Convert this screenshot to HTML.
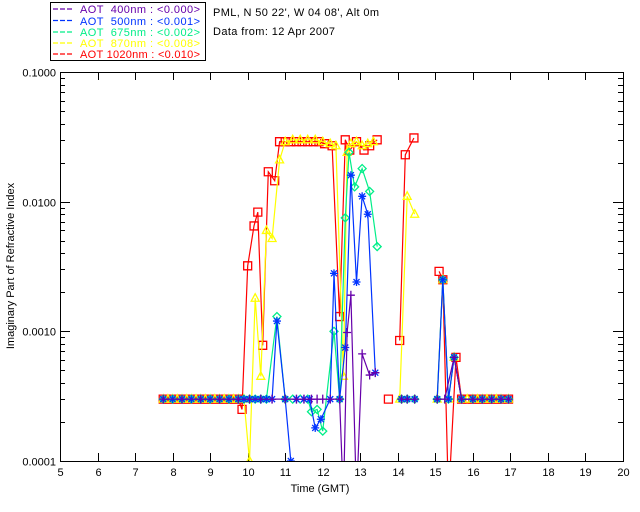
<!DOCTYPE html>
<html><head><meta charset="utf-8"><style>
body{margin:0;background:#fff;}
svg{display:block;font-family:"Liberation Sans",sans-serif;}
</style></head><body>
<svg id="c" width="640" height="512">
<rect x="0" y="0" width="640" height="512" fill="#fff"/>
<g>
<rect x="50.5" y="2.5" width="155" height="58" fill="none" stroke="#000"/>
<g font-size="11" stroke-width="1.2">
<line x1="53" y1="9" x2="74" y2="9" stroke="#6600aa" stroke-dasharray="5,2"/>
<line x1="53" y1="20.5" x2="74" y2="20.5" stroke="#0033ff" stroke-dasharray="5,2"/>
<line x1="53" y1="32" x2="74" y2="32" stroke="#00ee88" stroke-dasharray="5,2"/>
<line x1="53" y1="43" x2="74" y2="43" stroke="#ffff00" stroke-dasharray="5,2"/>
<line x1="53" y1="54" x2="74" y2="54" stroke="#ff0000" stroke-dasharray="5,2"/>
<text x="80" y="13" fill="#6600aa" textLength="120" lengthAdjust="spacing" xml:space="preserve">AOT  400nm : &lt;0.000&gt;</text>
<text x="80" y="25" fill="#0033ff" textLength="120" lengthAdjust="spacing" xml:space="preserve">AOT  500nm : &lt;0.001&gt;</text>
<text x="80" y="36" fill="#00ee88" textLength="120" lengthAdjust="spacing" xml:space="preserve">AOT  675nm : &lt;0.002&gt;</text>
<text x="80" y="47" fill="#ffff00" textLength="120" lengthAdjust="spacing" xml:space="preserve">AOT  870nm : &lt;0.008&gt;</text>
<text x="80" y="58" fill="#ff0000" textLength="120" lengthAdjust="spacing" xml:space="preserve">AOT 1020nm : &lt;0.010&gt;</text>
</g></g>
<text x="213" y="16" font-size="11" textLength="166" lengthAdjust="spacing">PML, N 50 22', W 04 08', Alt 0m</text>
<text x="213" y="35" font-size="11" textLength="122" lengthAdjust="spacing">Data from: 12 Apr 2007</text>
<text x="320" y="492" font-size="11" text-anchor="middle">Time (GMT)</text>
<text transform="translate(14,266) rotate(-90)" font-size="11" text-anchor="middle">Imaginary Part of Refractive Index</text>
<g id="axes"></g>
<defs><clipPath id="clip"><rect x="60" y="72" width="563" height="389"/></clipPath></defs>
<g id="series" clip-path="url(#clip)"></g>
<rect x="60.5" y="72.5" width="563" height="389" fill="none" stroke="#000"/>
</svg>
<script>
const xTicks=[5,6,7,8,9,10,11,12,13,14,15,16,17,18,19,20];
const yTicks=[0.0001,0.001,0.01,0.1];
const yTickLabels=["0.0001","0.0010","0.0100","0.1000"];
const bl=0.0003;
const redT=[7.75,7.875,8,8.125,8.25,8.375,8.5,8.625,8.75,8.875,9,9.125,9.25,9.375,9.5,9.625,9.75,9.85,10.0,10.17,10.27,10.4,10.55,10.72,10.85,11.0,11.15,11.3,11.45,11.6,11.75,11.9,12.05,12.25,12.45,12.6,12.72,12.9,13.1,13.25,13.45,null,13.75,null,14.05,14.2,14.43,null,15.1,15.2,15.35,15.55,15.7,15.85,16.0,16.125,16.25,16.375,16.5,16.625,16.75,16.95];
const redV=[bl,bl,bl,bl,bl,bl,bl,bl,bl,bl,bl,bl,bl,bl,bl,bl,bl,0.00025,0.0032,0.0065,0.0083,0.00078,0.017,0.0145,0.029,0.029,0.029,0.029,0.029,0.029,0.029,0.029,0.028,0.027,0.0013,0.03,0.025,0.029,0.025,0.027,0.03,null,bl,null,0.00085,0.023,0.031,null,0.0029,0.0025,0.00005,0.00063,bl,bl,bl,bl,bl,bl,bl,bl,bl,bl];
const yelT=[7.75,7.875,8,8.125,8.25,8.375,8.5,8.625,8.75,8.875,9,9.125,9.25,9.375,9.5,9.625,9.75,9.9,10.05,10.2,10.35,10.5,10.65,10.85,11.0,11.2,11.4,11.6,11.8,12.0,12.2,12.35,12.55,12.65,12.75,12.9,13.05,13.2,13.35,null,14.05,14.25,14.45,null,15.05,15.2,15.35,15.5,15.7,15.85,16.0,16.125,16.25,16.375,16.5,16.625,16.75,16.95];
const yelV=[bl,bl,bl,bl,bl,bl,bl,bl,bl,bl,bl,bl,bl,bl,bl,bl,bl,0.0003,0.0001,0.0018,0.00045,0.006,0.0052,0.021,0.029,0.03,0.03,0.03,0.03,0.029,0.028,0.027,0.00045,0.024,0.028,0.029,0.027,0.028,0.029,null,bl,0.011,0.008,null,bl,0.0025,bl,0.00063,bl,bl,bl,bl,bl,bl,bl,bl,bl,bl];
const grnT=[7.75,8,8.25,8.5,8.75,9,9.25,9.5,9.75,9.9,10.05,10.2,10.35,10.5,10.78,11.0,11.2,11.4,11.6,11.7,11.85,12.0,12.3,12.45,12.6,12.7,12.85,13.05,13.25,13.45,null,14.1,14.25,14.45,null,15.05,15.2,15.35,15.5,15.7,16.0,16.25,16.5,16.75,16.95];
const grnV=[bl,bl,bl,bl,bl,bl,bl,bl,bl,bl,bl,bl,bl,bl,0.0013,bl,bl,bl,bl,0.00024,0.00025,0.00017,0.001,0.0003,0.0075,0.024,0.013,0.018,0.012,0.0045,null,bl,bl,bl,null,bl,0.0025,bl,0.00063,bl,bl,bl,bl,bl,bl];
const bluT=[7.75,8,8.25,8.5,8.75,9,9.25,9.5,9.75,9.9,10.05,10.2,10.35,10.5,10.65,10.78,11.0,11.15,null,11.3,11.5,11.65,11.8,11.95,12.2,12.3,12.45,12.6,12.75,12.9,13.05,13.2,13.4,null,14.1,14.25,14.45,null,15.05,15.2,15.35,15.5,15.7,16.0,16.25,16.5,16.75,16.95];
const bluV=[bl,bl,bl,bl,bl,bl,bl,bl,bl,bl,bl,bl,bl,bl,bl,0.0012,bl,0.0001,null,bl,bl,0.0003,0.00018,0.00021,bl,0.0028,bl,0.00075,0.016,0.0024,0.011,0.008,0.00048,null,bl,bl,bl,null,bl,0.0025,bl,0.00063,bl,bl,bl,bl,bl,bl];
const purT=[7.75,8.25,8.75,9.25,9.75,10.05,10.35,10.65,11.0,11.3,11.5,11.7,11.85,12.0,12.2,12.45,12.55,12.65,12.75,12.9,13.05,13.25,13.4,null,14.1,14.25,14.45,null,15.05,15.25,15.5,15.7,16.0,16.25,16.5,16.75,16.95];
const purV=[bl,bl,bl,bl,bl,bl,bl,bl,bl,bl,bl,bl,bl,bl,bl,bl,0.00005,0.00098,0.0019,0.00005,0.00067,0.00046,0.00048,null,bl,bl,bl,null,bl,bl,0.00063,bl,bl,bl,bl,bl,bl];

const X0=60,X1=623,Y0=72,Y1=461;
const xs=t=>X0+(t-5)*(X1-X0)/15;
const ys=v=>Y1-(Math.log10(v)+4)*(Y1-Y0)/3;
const NS="http://www.w3.org/2000/svg";
function mk(tag,attrs,parent){const e=document.createElementNS(NS,tag);for(const k in attrs)e.setAttribute(k,attrs[k]);parent.appendChild(e);return e;}
const ax=document.getElementById('axes');
xTicks.forEach(t=>{
  const x=Math.round(xs(t))+0.5;
  const l=mk('path',{d:`M${x} ${Y1}V${Y1-8}M${x} ${Y0}V${Y0+8}`,stroke:'#000'},ax);
  
  
  const tx=mk('text',{x:x,y:Y1+15,'font-size':11,'text-anchor':'middle'},ax);
  tx.textContent=t;
  
  
});
yTicks.forEach((v,i)=>{
  const y=Math.round(ys(v))+0.5;
  const l=mk('path',{d:`M${X0} ${y}H${X0+10}M${X1} ${y}H${X1-10}`,stroke:'#000'},ax);
  
  
  const tx=mk('text',{x:X0-4,y:y+4,'font-size':11,'text-anchor':'end'},ax);
  tx.textContent=yTickLabels[i];
  
  
  if(i<yTicks.length-1){for(let m=2;m<10;m++){const yy=Math.round(ys(v*m))+0.5;
    const mm=mk('path',{d:`M${X0} ${yy}H${X0+5}M${X1} ${yy}H${X1-5}`,stroke:'#000'},ax);
    
    }}
});
const sg=document.getElementById('series');
function marker(kind,x,y,col,g){
  let d;
  if(kind==='sq') d=`M${x-4} ${y-4}h8v8h-8z`;
  else if(kind==='tri') d=`M${x} ${y-4.5}L${x+4} ${y+3}H${x-4}z`;
  else if(kind==='dia') d=`M${x} ${y-4}L${x+4} ${y}L${x} ${y+4}L${x-4} ${y}z`;
  else if(kind==='ast') d=`M${x-4} ${y}H${x+4}M${x} ${y-4}V${y+4}M${x-3} ${y-3}L${x+3} ${y+3}M${x+3} ${y-3}L${x-3} ${y+3}`;
  else d=`M${x-4} ${y}H${x+4}M${x} ${y-4.5}V${y+4.5}`;
  const m=mk('path',{d:d,fill:'none',stroke:col,'stroke-width':1.3},g);
  
  
}
function series(T,V,col,kind,name){
  const g=mk('g',{},sg);
  
  
  let d='',pen=false;
  T.forEach((t,i)=>{
    if(t===null||V[i]===null){pen=false;return;}
    d+=(pen?'L':'M')+xs(t).toFixed(1)+' '+ys(V[i]).toFixed(1);pen=true;
  });
  const p=mk('path',{d:d,fill:'none',stroke:col,'stroke-width':1.2},g);
  
  
  T.forEach((t,i)=>{if(t!==null&&V[i]!==null)marker(kind,xs(t),ys(V[i]),col,g);});
}
series(redT,redV,'#ff0000','sq','series-1020nm');
series(yelT,yelV,'#ffff00','tri','series-870nm');
series(grnT,grnV,'#00ee88','dia','series-675nm');
series(bluT,bluV,'#0033ff','ast','series-500nm');
series(purT,purV,'#6600aa','plus','series-400nm');
</script>
</body></html>
